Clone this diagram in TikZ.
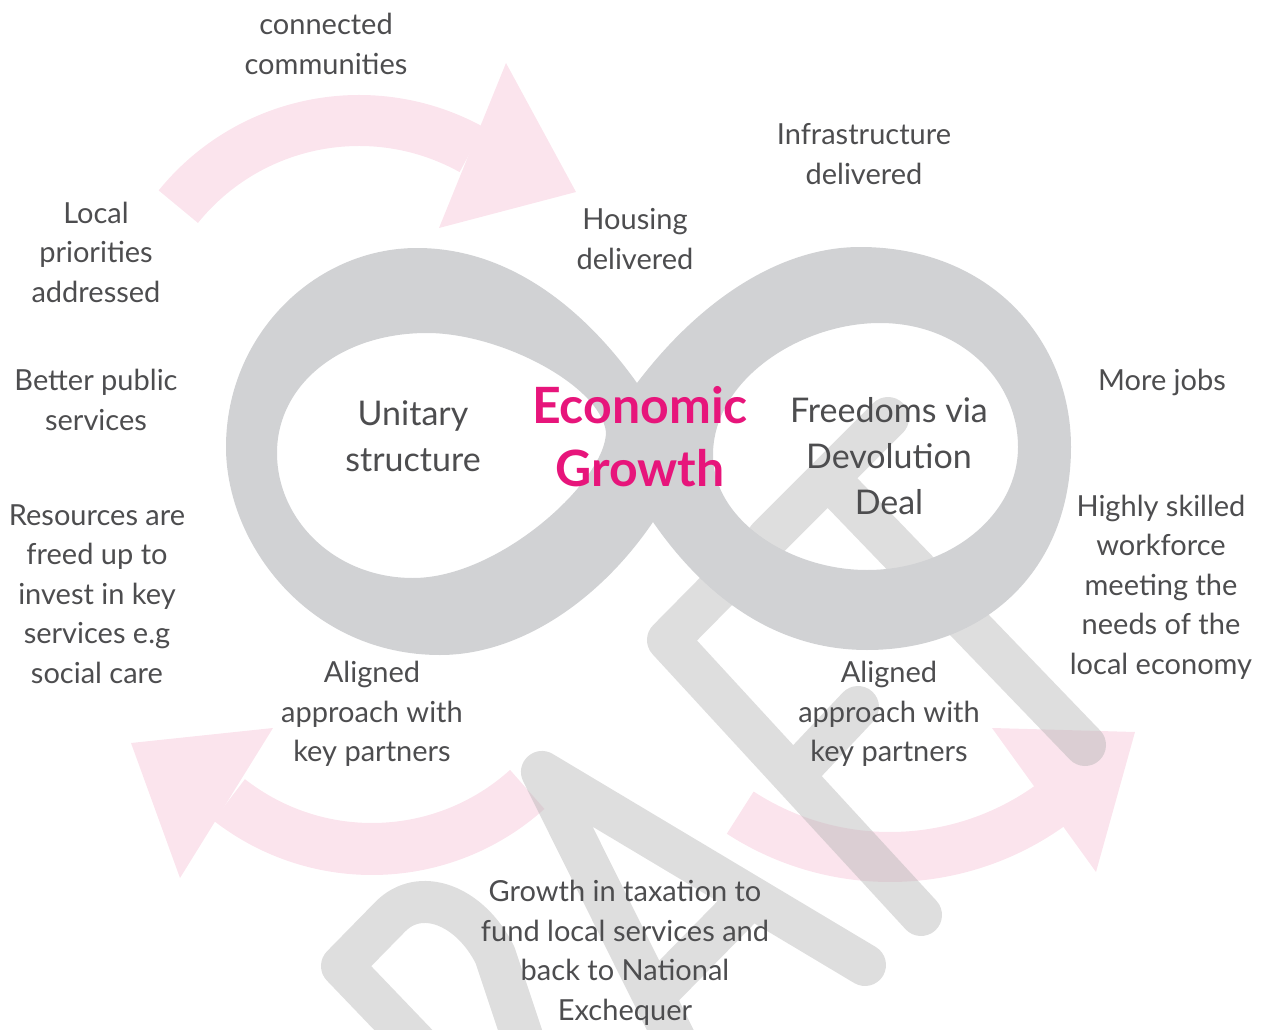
\documentclass[tikz,border=0pt]{standalone}
\usepackage{fontspec}
\setmainfont{Lato}
\usepackage{tikz}
\definecolor{textgrey}{RGB}{77,77,79}
\definecolor{infgrey}{RGB}{209,210,212}
\definecolor{swooshpink}{RGB}{251,228,237}
\definecolor{growthpink}{RGB}{231,21,123}
\definecolor{draftgrey}{RGB}{180,180,180}
\tikzstyle{blurb} = [text=textgrey, align=center, inner sep=0pt,
    font=\fontsize{29}{39.5}\selectfont]
\tikzstyle{inside} = [blurb, font=\fontsize{34}{46}\selectfont]
\tikzstyle{headline} = [text=growthpink, align=center, inner sep=0pt,
    font=\bfseries\fontsize{50}{63}\selectfont]
\tikzstyle{swoosh} = [draw=swooshpink, line width=51pt]
\tikzstyle{swooshhead} = [fill=swooshpink]
\tikzstyle{draftmark} = [draw=draftgrey, opacity=0.44, line width=42pt,
    line cap=round, line join=round]

\begin{document}
\begin{tikzpicture}[x=1pt, y=-1pt]
    \useasboundingbox (0,0) rectangle (1267,1030);

    % Pink arrows
    \path [swoosh] (359,353) ++(-141:232.5) arc[start angle=-141, end angle=-61, radius=232.5];
    \path [swooshhead] (506,63) -- (576,192) -- (439,228) -- cycle;
    \path [swoosh, line width=52pt] (372,617) ++(48:232) arc[start angle=48, end angle=128, radius=232];
    \path [swooshhead] (273,728) -- (131,743) -- (180,878) -- cycle;
    \path [swoosh, line width=50pt] (890,582) ++(123:275) arc[start angle=123, end angle=54, radius=275];
    \path [swooshhead] (992,728) -- (1135,732) -- (1096,872) -- cycle;

    % Draft watermark
    \begin{scope}
        \clip (0,0) rectangle (1267,1030);
        \path [draftmark]
            (480,1110) -- (342,966) -- (390,917) .. controls (420,886) and (470,905) .. (495,955) -- (530,1060)
            (715,1120) -- (542,772) -- (865,965)
            (654,996) -- (751,897)
            (921,915) -- (668,640) -- (745,562)
            (793,776) -- (858,707)
            (768,538) -- (888,418)
            (828,478) -- (1085,745);
    \end{scope}

    % Infinity loop
    \path [fill=infgrey, even odd rule]
        (637,383) .. controls (700,300) and (780,247) .. (860,247)
        .. controls (990,247) and (1071,340) .. (1071,447)
        .. controls (1071,570) and (985,650) .. (867,650)
        .. controls (770,650) and (700,590) .. (653,522)
        .. controls (600,600) and (520,655) .. (440,655)
        .. controls (310,655) and (226,545) .. (226,447)
        .. controls (226,335) and (315,248) .. (417,248)
        .. controls (510,248) and (585,310) .. (637,383) -- cycle
        (277,453) .. controls (277,385) and (340,333) .. (427,333)
        .. controls (500,333) and (600,385) .. (606,432)
        .. controls (606,480) and (500,578) .. (413,578)
        .. controls (335,578) and (277,520) .. (277,453) -- cycle
        (713,455) .. controls (713,380) and (800,323) .. (880,323)
        .. controls (960,323) and (1018,380) .. (1018,447)
        .. controls (1018,515) and (950,570) .. (867,570)
        .. controls (790,570) and (713,520) .. (713,455) -- cycle;

    % Place nodes
    \node [blurb, at={(326,44)}] (connected) {connected\\communities};
    \node [blurb, at={(96,252)}] (localprio) {Local\\priorities\\addressed};
    \node [blurb, at={(96,400)}] (betterpub) {Better public\\services};
    \node [blurb, at={(97,594)}] (resources) {Resources are\\freed up to\\invest in key\\services e.g\\social care};
    \node [blurb, at={(372,714)}] (alignleft) {Aligned\\approach with\\key partners};
    \node [blurb, at={(625,953)}] (taxation) {Growth in taxation to\\fund local services and\\back to National\\Exchequer};
    \node [blurb, at={(889,714)}] (alignright) {Aligned\\approach with\\key partners};
    \node [blurb, at={(635,239)}] (housing) {Housing\\delivered};
    \node [blurb, at={(864,154)}] (infra) {Infrastructure\\delivered};
    \node [blurb, at={(1162,382)}] (morejobs) {More jobs};
    \node [blurb, at={(1161,587)}] (skilled) {Highly skilled\\workforce\\meeting the\\needs of the\\local economy};

    \node [inside, at={(413,436)}] (unitary) {Unitary\\structure};
    \node [inside, at={(889,456)}] (freedoms) {Freedoms via\\Devolution\\Deal};

    \node [headline, at={(640,437)}] (growth) {Economic\\Growth};

\end{tikzpicture}
\end{document}
